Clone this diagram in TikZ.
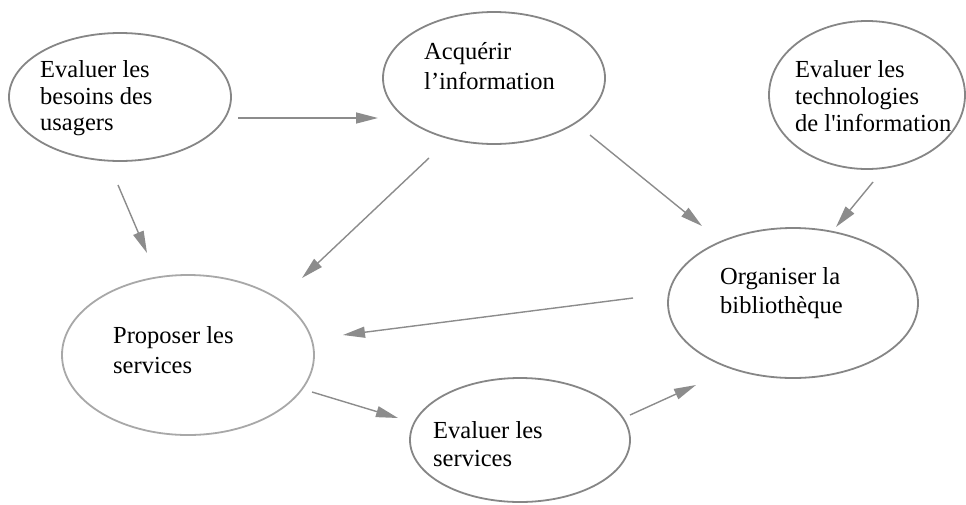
\documentclass[tikz,border=0pt]{standalone}
\usepackage{fontspec}
\setmainfont{Liberation Serif}
\usetikzlibrary{shapes.geometric,arrows.meta,calc}
\definecolor{edgegray}{HTML}{868686}
\definecolor{lightgray}{HTML}{A8A8A8}
\definecolor{arrowgray}{HTML}{8C8C8C}
\tikzset{
  ell/.style={ellipse, draw=edgegray, line width=1.8pt, inner sep=0pt, fill=white},
  txt/.style={anchor=base west, inner sep=0pt, font=\fontsize{24.5}{28}\selectfont, text=black},
  arr/.style={draw=arrowgray, line width=1.4pt, -{Triangle[length=22pt,width=11pt]}, fill=arrowgray}
}
\begin{document}
\begin{tikzpicture}[x=1pt,y=-1pt]
\useasboundingbox (0,0) rectangle (966,504);
% ellipses
\node[ell, minimum width=222pt, minimum height=128pt] (e1) at (120,97) {};
\node[ell, minimum width=222pt, minimum height=132pt] (e2) at (494,78) {};
\node[ell, minimum width=196pt, minimum height=148pt] (e3) at (867,95) {};
\node[ell, minimum width=250pt, minimum height=150pt] (eo) at (793,303) {};
\node[ell, draw=lightgray, minimum width=252pt, minimum height=160pt] (ep) at (188,355) {};
\node[ell, minimum width=220pt, minimum height=124pt] (es) at (520,440) {};
% texts
\node[txt] (t1a) at (40,77) {Evaluer les};
\node[txt] (t1b) at (40,104) {besoins des};
\node[txt] (t1c) at (40,130) {usagers};
\node[txt] (t2a) at (424,59) {Acquérir};
\node[txt] (t2b) at (424,89) {l’information};
\node[txt] (t3a) at (795,77) {Evaluer les};
\node[txt] (t3b) at (795,104) {technologies};
\node[txt] (t3c) at (795,131) {de l\textquotesingle information};
\node[txt] (toa) at (720,284) {Organiser la};
\node[txt] (tob) at (720,313) {bibliothèque};
\node[txt] (tpa) at (113,343) {Proposer les};
\node[txt] (tpb) at (113,373) {services};
\node[txt] (tsa) at (433,438) {Evaluer les};
\node[txt] (tsb) at (433,466) {services};
% connectors
\draw[arr] ($(e1)+(118,21)$) -- ($(e2)+(-116,40)$);
\draw[arr] ($(e1)+(-2,88)$) -- ($(ep)+(-41,-102)$);
\draw[arr] ($(e2)+(-65,80)$) -- ($(ep)+(114,-77)$);
\draw[arr] ($(e2)+(96,57)$) -- ($(eo)+(-91,-77)$);
\draw[arr] ($(e3)+(6,87)$) -- ($(eo)+(43,-76)$);
\draw[arr] ($(eo)+(-160,-5)$) -- ($(ep)+(155,-20)$);
\draw[arr] ($(ep)+(124,37)$) -- ($(es)+(-122,-22)$);
\draw[arr] ($(es)+(110,-25)$) -- ($(eo)+(-97,82)$);
\end{tikzpicture}
\end{document}
